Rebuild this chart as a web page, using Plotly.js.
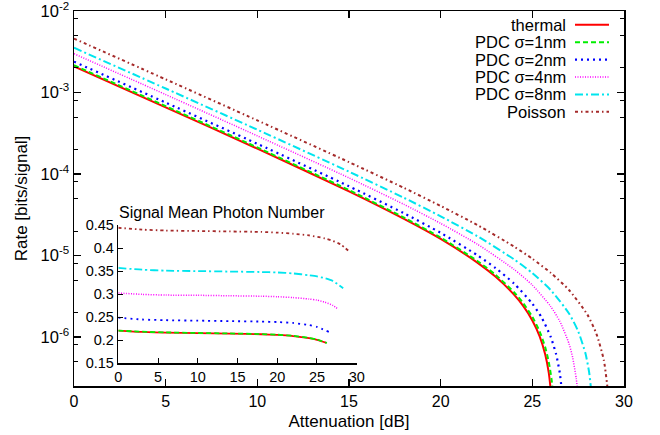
<!DOCTYPE html>
<html>
<head>
<meta charset="utf-8">
<script src="https://cdn.plot.ly/plotly-3.0.1.min.js"></script>
<style>html,body{margin:0;padding:0;background:#fff;}</style>
</head>
<body>
<div id="chart" style="width:660px;height:435px;"></div>
<script>
// ---------- Data ----------
var seriesNames = ['thermal', 'PDC \u03c3=1nm', 'PDC \u03c3=2nm', 'PDC \u03c3=4nm', 'PDC \u03c3=8nm', 'Poisson'];

// Main plot: secret key rate vs attenuation
var attThermal = [0, 5, 10, 15, 18, 20, 22, 23, 24, 24.5, 25, 25.4, 25.7, 25.9, 26.05];
var rateThermal = [2.09e-3, 6.59e-4, 2.05e-4, 6.14e-5, 2.82e-5, 1.60e-5, 8.20e-6, 5.48e-6, 3.32e-6, 2.41e-6, 1.60e-6, 1.02e-6, 6.15e-7, 3.61e-7, 1.77e-7];

var attPdc1 = [0, 5, 10, 15, 18, 20, 22, 23, 24, 24.5, 25, 25.4, 25.7, 25.9, 26.05, 26.15];
var ratePdc1 = [2.16e-3, 6.81e-4, 2.12e-4, 6.35e-5, 2.92e-5, 1.66e-5, 8.59e-6, 5.78e-6, 3.55e-6, 2.61e-6, 1.77e-6, 1.17e-6, 7.53e-7, 4.90e-7, 3.01e-7, 1.79e-7];

var attPdc2 = [0, 5, 10, 15, 18, 20, 22, 23, 24, 25, 25.5, 26, 26.3, 26.5, 26.65];
var ratePdc2 = [2.39e-3, 7.53e-4, 2.35e-4, 7.08e-5, 3.30e-5, 1.90e-5, 1.01e-5, 7.01e-6, 4.54e-6, 2.57e-6, 1.75e-6, 1.01e-6, 6.12e-7, 3.60e-7, 1.76e-7];

var attPdc4 = [0, 5, 10, 15, 18, 20, 22, 24, 25, 26, 26.5, 27, 27.2, 27.4, 27.5];
var ratePdc4 = [2.99e-3, 9.44e-4, 2.94e-4, 8.97e-5, 4.24e-5, 2.48e-5, 1.38e-5, 6.78e-6, 4.34e-6, 2.38e-6, 1.56e-6, 8.32e-7, 5.60e-7, 3.05e-7, 1.81e-7];

var attPdc8 = [0, 5, 10, 15, 18, 20, 22, 24, 25, 26, 27, 27.5, 27.9, 28.1, 28.25];
var ratePdc8 = [3.54e-3, 1.12e-3, 3.50e-4, 1.07e-4, 5.11e-5, 3.03e-5, 1.73e-5, 8.99e-6, 6.10e-6, 3.78e-6, 1.95e-6, 1.18e-6, 6.27e-7, 3.68e-7, 1.80e-7];

var attPoisson = [0, 5, 10, 15, 18, 20, 22, 24, 25, 26, 27, 28, 28.5, 28.9, 29.15];
var ratePoisson = [4.59e-3, 1.45e-3, 4.55e-4, 1.40e-4, 6.76e-5, 4.06e-5, 2.37e-5, 1.29e-5, 9.14e-6, 6.15e-6, 3.78e-6, 1.89e-6, 1.09e-6, 5.21e-7, 1.90e-7];

// Inset: signal mean photon number vs attenuation
var insAttThermal = [0, 3, 6, 10, 14, 18, 20, 22, 24, 25, 26.2];
var insMuThermal  = [0.221, 0.218, 0.2165, 0.2155, 0.2145, 0.213, 0.2115, 0.209, 0.2045, 0.201, 0.1945];
var insAttPdc1 = [0, 3, 6, 10, 14, 18, 20, 22, 24, 25, 26.25];
var insMuPdc1  = [0.221, 0.2185, 0.217, 0.2158, 0.2148, 0.2133, 0.212, 0.2095, 0.205, 0.2015, 0.194];
var insAttPdc2 = [0, 3, 6, 10, 14, 18, 20, 22, 24, 25, 26.5];
var insMuPdc2  = [0.249, 0.245, 0.2435, 0.2425, 0.2415, 0.2405, 0.2395, 0.2375, 0.233, 0.229, 0.218];
var insAttPdc4 = [0, 3, 6, 10, 14, 18, 20, 22, 24, 25, 26, 27, 27.7];
var insMuPdc4  = [0.3025, 0.2995, 0.298, 0.2975, 0.2965, 0.2955, 0.2945, 0.2925, 0.2895, 0.287, 0.2825, 0.2755, 0.267];
var insAttPdc8 = [0, 3, 6, 10, 14, 18, 20, 22, 24, 25, 26, 27, 28.3];
var insMuPdc8  = [0.357, 0.353, 0.351, 0.350, 0.349, 0.348, 0.347, 0.345, 0.341, 0.3385, 0.3345, 0.3285, 0.313];
var insAttPoisson = [0, 3, 6, 10, 14, 18, 20, 22, 24, 26, 27, 28, 29.1];
var insMuPoisson  = [0.444, 0.440, 0.438, 0.437, 0.436, 0.435, 0.4335, 0.431, 0.4275, 0.421, 0.4155, 0.4075, 0.392];

// Tick labels
var xTickVals = [0, 5, 10, 15, 20, 25, 30];
var yTickVals = [1e-2, 1e-3, 1e-4, 1e-5, 1e-6];
var yTickText = ['10<sup>-2</sup>', '10<sup>-3</sup>', '10<sup>-4</sup>', '10<sup>-5</sup>', '10<sup>-6</sup>'];
var yMinorVals = [8e-3, 5e-3, 2e-3, 8e-4, 5e-4, 2e-4, 8e-5, 5e-5, 2e-5, 8e-6, 5e-6, 2e-6, 8e-7, 5e-7];
var insYTickVals = [0.15, 0.2, 0.25, 0.3, 0.35, 0.4, 0.45];
var insYTickText = ['0.15', '0.2', '0.25', '0.3', '0.35', '0.4', '0.45'];
var insTitle = 'Signal Mean Photon Number';

// ---------- Styles ----------
var styles = [
  {color: '#ff0000', width: 2, dash: 'solid'},
  {color: '#00ee00', width: 2, dash: '5px,3px'},
  {color: '#0000ff', width: 2.2, dash: '2px,4px'},
  {color: '#ff00ff', width: 1.5, dash: '1px,1.5px'},
  {color: '#00e5ee', width: 2, dash: '8px,3px,2px,3px'},
  {color: '#a52a2a', width: 2, dash: '3px,3px,1.5px,3px'}
];

var mainX = [attThermal, attPdc1, attPdc2, attPdc4, attPdc8, attPoisson];
var mainY = [rateThermal, ratePdc1, ratePdc2, ratePdc4, ratePdc8, ratePoisson];
var insX = [insAttThermal, insAttPdc1, insAttPdc2, insAttPdc4, insAttPdc8, insAttPoisson];
var insY = [insMuThermal, insMuPdc1, insMuPdc2, insMuPdc4, insMuPdc8, insMuPoisson];

var traces = [];
for (var i = 0; i < seriesNames.length; i++) {
  traces.push({x: mainX[i], y: mainY[i], name: seriesNames[i], type: 'scatter', mode: 'lines',
    line: {color: styles[i].color, width: styles[i].width, dash: styles[i].dash, shape: 'spline', smoothing: 0.6},
    xaxis: 'x', yaxis: 'y', cliponaxis: true});
}
for (var j = 0; j < seriesNames.length; j++) {
  traces.push({x: insX[j], y: insY[j], name: seriesNames[j], type: 'scatter', mode: 'lines', showlegend: false,
    line: {color: styles[j].color, width: Math.min(styles[j].width, 1.8), dash: styles[j].dash, shape: 'spline', smoothing: 0.6},
    xaxis: 'x2', yaxis: 'y2'});
}

// pixel -> paper helpers (plot area: x 74..624, y 11..386)
var L = 74, R = 624, T = 11, B = 386;
function px(v) { return (v - L) / (R - L); }
function py(v) { return (B - v) / (B - T); }

var annotations = [];
var shapes = [];
var legendRows = [24.8, 42.2, 59.6, 77.0, 94.4, 111.8];
for (var k = 0; k < seriesNames.length; k++) {
  annotations.push({text: seriesNames[k], xref: 'paper', yref: 'paper', x: px(567), y: py(legendRows[k]),
    xanchor: 'right', yanchor: 'middle', showarrow: false, font: {size: 16.5, color: '#000'}, borderpad: 0});
  shapes.push({type: 'line', xref: 'paper', yref: 'paper', x0: px(575), x1: px(609), y0: py(legendRows[k]), y1: py(legendRows[k]),
    line: {color: styles[k].color, width: styles[k].width, dash: styles[k].dash}});
}
annotations.push({text: insTitle, xref: 'paper', yref: 'paper', x: px(117), y: py(213), xanchor: 'left', yanchor: 'middle',
  showarrow: false, font: {size: 16, color: '#000'}});

var layout = {
  width: 660, height: 435,
  margin: {l: L, r: 660 - R, t: T, b: 435 - B},
  paper_bgcolor: '#ffffff', plot_bgcolor: '#ffffff',
  showlegend: false,
  font: {family: '"Liberation Sans", Arial, sans-serif', size: 16, color: '#000'},
  xaxis: {
    range: [0, 30], tickvals: xTickVals, ticks: 'inside', ticklen: 7, tickwidth: 1.2, tickcolor: '#000',
    mirror: 'ticks', showline: true, linewidth: 1.5, linecolor: '#000', showgrid: false, zeroline: false,
    tickfont: {size: 16}, ticklabeloverflow: 'allow', title: {text: 'Attenuation [dB]', font: {size: 17}, standoff: 6}
  },
  yaxis: {
    type: 'log', range: [-6.6, -2], tickvals: yTickVals, ticktext: yTickText,
    ticks: 'inside', ticklen: 7, tickwidth: 1.2, tickcolor: '#000',
    minor: {tickmode: 'array', tickvals: yMinorVals, ticks: 'inside', ticklen: 4, tickwidth: 1, tickcolor: '#000', showgrid: false},
    mirror: 'ticks', showline: true, linewidth: 1.5, linecolor: '#000', showgrid: false, zeroline: false,
    tickfont: {size: 16.5}, ticklabeloverflow: 'allow', title: {text: 'Rate [bits/signal]', font: {size: 17}, standoff: 8}
  },
  xaxis2: {
    domain: [px(118.3), px(356.7)], anchor: 'y2', range: [0, 30], tickvals: xTickVals,
    ticks: 'inside', ticklen: 5, tickwidth: 1, tickcolor: '#000', showline: true, linewidth: 1.5, linecolor: '#000',
    showgrid: false, zeroline: false, tickfont: {size: 14.5}
  },
  yaxis2: {
    domain: [py(363.3), py(225)], anchor: 'x2', range: [0.15, 0.45], tickvals: insYTickVals, ticktext: insYTickText,
    ticks: 'inside', ticklen: 5, tickwidth: 1, tickcolor: '#000', showline: true, linewidth: 1.5, linecolor: '#000',
    showgrid: false, zeroline: false, tickfont: {size: 14.5}
  },
  annotations: annotations,
  shapes: shapes
};

Plotly.newPlot('chart', traces, layout, {staticPlot: true, displayModeBar: false});
</script>
</body>
</html>
